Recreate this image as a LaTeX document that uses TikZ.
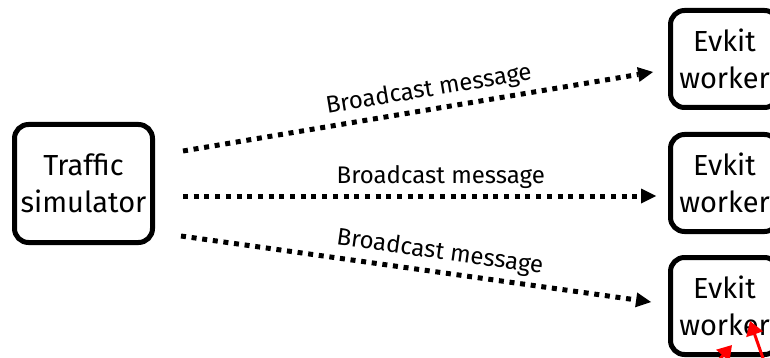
\documentclass[tikz,border=0pt]{standalone}
\usepackage{fontspec}
\setmainfont{Fira Sans}
\usetikzlibrary{arrows.meta}
\tikzset{
  box/.style={draw, line width=5pt, rounded corners=14pt, align=center, inner sep=0pt,
    font=\fontsize{29}{37}\selectfont},
  msg/.style={line width=5pt, dash pattern=on 5pt off 5.7pt,
    -{Triangle[length=15pt,width=15pt,line width=0pt]}, shorten >=0pt},
  lbl/.style={font=\fontsize{24}{28}\selectfont, sloped, above=2pt, pos=0.545},
  redarr/.style={red, line width=3pt, -{Triangle[length=14pt,width=17pt]}}
}
\begin{document}
\begin{tikzpicture}[x=1pt,y=-1pt]
\useasboundingbox (0,0) rectangle (770,358);
\clip (0,0) rectangle (770,358);
\node[box, minimum width=138pt, minimum height=118pt] (sim) at (83.5,183.5) {Traffic\\simulator};
\node[box, minimum width=108pt, minimum height=97pt] (w1) at (724.5,59) {Evkit\\worker};
\node[box, minimum width=108pt, minimum height=97pt] (w2) at (724.5,183) {Evkit\\worker};
\node[box, minimum width=108pt, minimum height=97pt] (w3) at (724.5,306) {Evkit\\worker};
\coordinate (s1) at (183,151);
\coordinate (e1) at (653,72);
\coordinate (s2) at (183,196);
\coordinate (e2) at (656,196);
\coordinate (s3) at (181,236);
\coordinate (e3) at (651,302);
\draw[msg] (s1) -- (e1) node[lbl, pos=0.53] {Broadcast message};
\draw[msg] (s2) -- (e2) node[lbl] {Broadcast message};
\draw[msg] (s3) -- (e3) node[lbl] {Broadcast message};
\coordinate (r1s) at (765,364);
\coordinate (r1e) at (750,321);
\coordinate (r2s) at (712,368);
\coordinate (r2e) at (732,345);
\draw[redarr] (r1s) -- (r1e);
\draw[redarr] (r2s) -- (r2e);
\end{tikzpicture}
\end{document}
